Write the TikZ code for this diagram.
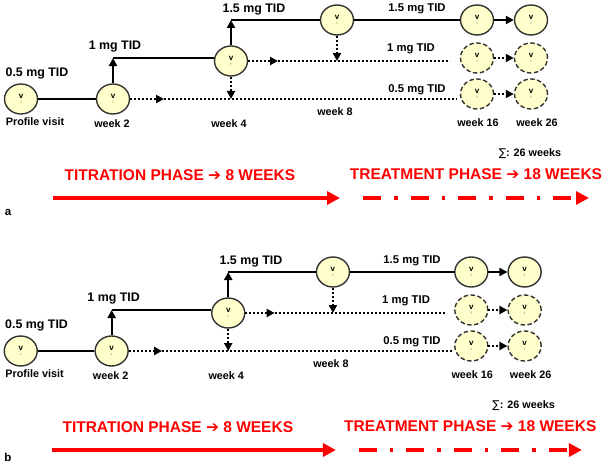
\documentclass[tikz,border=0pt]{standalone}
\usepackage{fontspec}
\setmainfont{Liberation Sans}
\newfontfamily\symbolfont{DejaVu Sans}
\usepackage{tikz}
\usetikzlibrary{positioning, arrows.meta, shapes.geometric}

\definecolor{visitfill}{RGB}{255,255,204}
\definecolor{visitdraw}{RGB}{50,50,50}
\definecolor{phasered}{RGB}{255,0,0}

\tikzset{
  visit/.style={ellipse, draw=visitdraw, line width=1.4pt, fill=visitfill,
    minimum width=33pt, minimum height=30pt, inner sep=0pt, align=center,
    font=\bfseries\fontsize{8}{8}\selectfont},
  planned/.style={visit, draw=visitdraw, dash pattern=on 4.5pt off 2.5pt},
  doseleft/.style={font=\bfseries\fontsize{12.4}{14}\selectfont, inner sep=0pt},
  doseright/.style={font=\bfseries\fontsize{11.3}{13}\selectfont, inner sep=0pt},
  weeklabel/.style={font=\bfseries\fontsize{10.8}{12}\selectfont, inner sep=0pt},
  phase/.style={font=\bfseries\fontsize{15.5}{18}\selectfont, text=phasered, inner sep=0pt},
  given/.style={line width=2.2pt, black},
  optional/.style={line width=2.5pt, black, dash pattern=on 2pt off 2pt},
  tip/.style={-{Triangle[length=8pt,width=8pt]}},
  phasearrow/.style={line width=4.2pt, phasered, -{Triangle[length=13pt,width=13pt]}},
}

\newcommand{\vmark}{v\\[-3pt]{\fontsize{4}{4}\selectfont -}}

\newcommand{\dosepanel}{%
  \node[visit] (pv) at (21,99) {\vmark};
  \node[visit] (w2) at (113,99) {\vmark};
  \node[visit] (w4) at (231,61) {\vmark};
  \node[visit] (w8) at (337,20) {\vmark};
  \node[visit] (w16) at (477,20) {\vmark};
  \node[visit] (w26) at (531,20) {\vmark};
  \node[planned] (w16m) at (477,58) {\vmark};
  \node[planned] (w26m) at (531,58) {\vmark};
  \node[planned] (w16l) at (477,94) {\vmark};
  \node[planned] (w26l) at (531,94) {\vmark};

  \node[doseleft] (d05) at (37,73) {0.5 mg TID};
  \node[doseleft] (d1) at (115,47) {1 mg TID};
  \node[doseleft] (d15) at (254,10) {1.5 mg TID};
  \node[doseright] (d15r) at (417,8.5) {1.5 mg TID};
  \node[doseright] (d1r) at (411,49) {1 mg TID};
  \node[doseright] (d05r) at (417,90) {0.5 mg TID};

  \node[weeklabel] (lpv) at (35,122) {Profile visit};
  \node[weeklabel] (lw2) at (112,124) {week 2};
  \node[weeklabel] (lw4) at (229,124) {week 4};
  \node[weeklabel] (lw8) at (335,112) {week 8};
  \node[weeklabel] (lw16) at (478,123) {week 16};
  \node[weeklabel] (lw26) at (537,123) {week 26};

  \coordinate (tipm) at (278,61);
  \coordinate (endm) at (450,61);
  \coordinate (tipl) at (164,99);
  \coordinate (endl) at (457,99);

  \draw[given] (pv) -- (w2);
  \draw[given, tip] (w2.north) -- (w2.north |- w4.170);
  \draw[given] (w2.north |- w4.170) -- (w4.170);
  \draw[given, tip] (w4.north) -- (w4.north |- w8.west);
  \draw[given] (w4.north |- w8.west) -- (w8.west);
  \draw[given] (w8) -- (w16);
  \draw[given, tip] (w16) -- (w26);

  \draw[optional, tip] (w4.east) -- (tipm);
  \draw[optional] (tipm) -- (endm);
  \draw[optional, tip] (w2.east) -- (tipl);
  \draw[optional] (tipl) -- (endl);
  \draw[optional, tip] (w4.south) -- (w4.south |- endl);
  \draw[optional, tip] (w8.south) -- (w8.south |- endm);
  \draw[optional, tip] (w16m) -- (w26m);
  \draw[optional, tip] (w16l) -- (w26l);

  \node[weeklabel] (total) at (530,154) {{\symbolfont\mdseries ∑}: 26 weeks};
  \node[phase] (titration) at (180,175) {TITRATION PHASE {\symbolfont\bfseries ➔} 8 WEEKS};
  \node[phase] (treatment) at (476,174) {TREATMENT PHASE {\symbolfont\bfseries ➔} 18 WEEKS};
  \coordinate (ts) at (53,198);
  \coordinate (te) at (340,198);
  \coordinate (rs) at (363,198);
  \coordinate (re) at (589,198);
  \draw[phasearrow] (ts) -- (te);
  \draw[phasearrow, dash pattern=on 18pt off 13pt on 3.5pt off 13pt] (rs) -- (re);
}

\begin{document}
\begin{tikzpicture}[x=1pt, y=-1pt]
  \useasboundingbox (0,0) rectangle (609,465);
  \begin{scope}[name prefix=a-]
    \dosepanel
  \end{scope}
  \begin{scope}[name prefix=b-, shift={(0,252)}, xscale=0.988]
    \dosepanel
  \end{scope}
  \node[weeklabel, font=\bfseries\fontsize{11.5}{13}\selectfont] (panela) at (8,212) {a};
  \node[weeklabel, font=\bfseries\fontsize{11.5}{13}\selectfont] (panelb) at (8,457) {b};
\end{tikzpicture}
\end{document}
